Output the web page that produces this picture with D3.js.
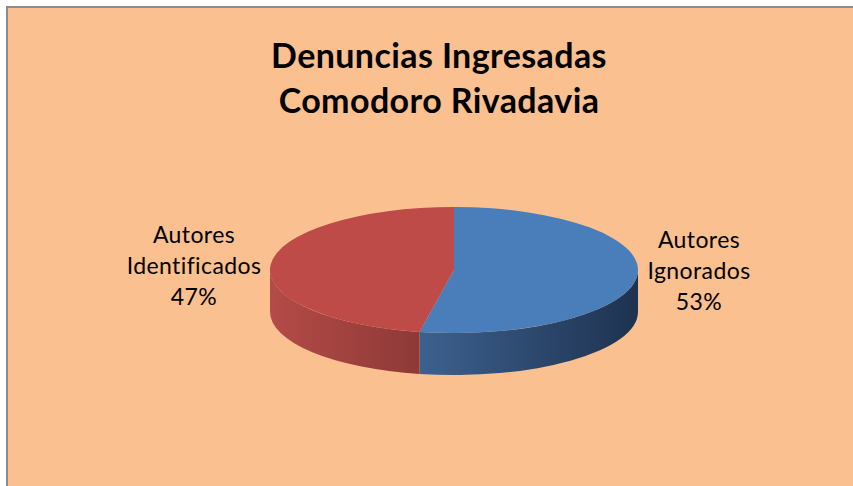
<!DOCTYPE html>
<html lang="es">
<head>
  <meta charset="UTF-8" />
  <title>Denuncias Ingresadas Comodoro Rivadavia</title>
  <script src="https://d3js.org/d3.v7.min.js"></script>
  <style>
    html, body {
      margin: 0;
      padding: 0;
      background: #ffffff;
      overflow: hidden;
    }
    svg { display: block; }
    .title {
      font-family: Lato, 'Open Sans', sans-serif;
      font-weight: bold;
      font-size: 34px;
      letter-spacing: 0.4px;
      fill: #000;
    }
    .label {
      font-family: Lato, 'Open Sans', sans-serif;
      font-size: 23px;
      letter-spacing: 0.4px;
      fill: #000;
    }
  </style>
</head>
<body>
  <div id="chart"></div>

  <script>
    const titleLines = ["Denuncias Ingresadas", "Comodoro Rivadavia"];
    const categories = ["Autores Ignorados", "Autores Identificados"];
    const values = [53, 47];
    const labelLines = [["Autores", "Ignorados", "53%"], ["Autores", "Identificados", "47%"]];

    const topColors = ["#4a7ebb", "#be4b48"];
    const sideStops = [["#3d6290", "#1e3250"], ["#b44b47", "#8f3a37"]];

    const W = 853, H = 486;
    const cx = 454, cy = 270, rx = 184, ry = 63, depth = 42;

    const svg = d3.select("#chart").append("svg")
      .attr("width", W)
      .attr("height", H);

    // chart area with border
    svg.append("rect")
      .attr("x", 7).attr("y", 7)
      .attr("width", W).attr("height", H)
      .attr("fill", "#fac090")
      .attr("stroke", "#8c8c8c")
      .attr("stroke-width", 2);

    // title
    svg.selectAll(".title")
      .data(titleLines)
      .enter()
      .append("text")
      .attr("class", "title")
      .attr("x", 439)
      .attr("y", (d, i) => 68 + i * 45)
      .attr("text-anchor", "middle")
      .text(d => d);

    const pie = d3.pie().sort(null).startAngle(0).endAngle(2 * Math.PI);
    const arcs = pie(values);

    const pt = (a, dy = 0) => [cx + rx * Math.sin(a), cy - ry * Math.cos(a) + dy];

    const defs = svg.append("defs");
    sideStops.forEach((s, i) => {
      const grad = defs.append("linearGradient")
        .attr("id", "side" + i)
        .attr("gradientUnits", "userSpaceOnUse")
        .attr("x1", i === 0 ? 415 : cx - rx).attr("x2", i === 0 ? cx + rx : 415)
        .attr("y1", 0).attr("y2", 0);
      grad.append("stop").attr("offset", "0%").attr("stop-color", s[0]);
      grad.append("stop").attr("offset", "100%").attr("stop-color", s[1]);
    });

    function sidePath(d) {
      const s = Math.max(d.startAngle, Math.PI / 2);
      const e = Math.min(d.endAngle, 3 * Math.PI / 2);
      if (e <= s) return null;
      const p0 = pt(s), p1 = pt(e), q1 = pt(e, depth), q0 = pt(s, depth);
      return `M${p0}A${rx},${ry} 0 0 1 ${p1}L${q1}A${rx},${ry} 0 0 0 ${q0}Z`;
    }

    function topPath(d) {
      const p0 = pt(d.startAngle), p1 = pt(d.endAngle);
      const large = d.endAngle - d.startAngle > Math.PI ? 1 : 0;
      return `M${cx},${cy}L${p0}A${rx},${ry} 0 ${large} 1 ${p1}Z`;
    }

    svg.selectAll(".side")
      .data(arcs.filter(d => sidePath(d)))
      .enter()
      .append("path")
      .attr("class", "side")
      .attr("d", sidePath)
      .attr("fill", d => `url(#side${d.index})`);

    svg.selectAll(".top")
      .data(arcs)
      .enter()
      .append("path")
      .attr("class", "top")
      .attr("d", topPath)
      .attr("fill", d => topColors[d.index]);

    // labels
    const labelPos = [{ x: 699, y: 248 }, { x: 194, y: 243 }];
    labelLines.forEach((lines, i) => {
      svg.append("text")
        .attr("class", "label")
        .attr("text-anchor", "middle")
        .selectAll("tspan")
        .data(lines)
        .enter()
        .append("tspan")
        .attr("x", labelPos[i].x)
        .attr("y", (d, j) => labelPos[i].y + j * 31)
        .text(d => d);
    });
  </script>
</body>
</html>
